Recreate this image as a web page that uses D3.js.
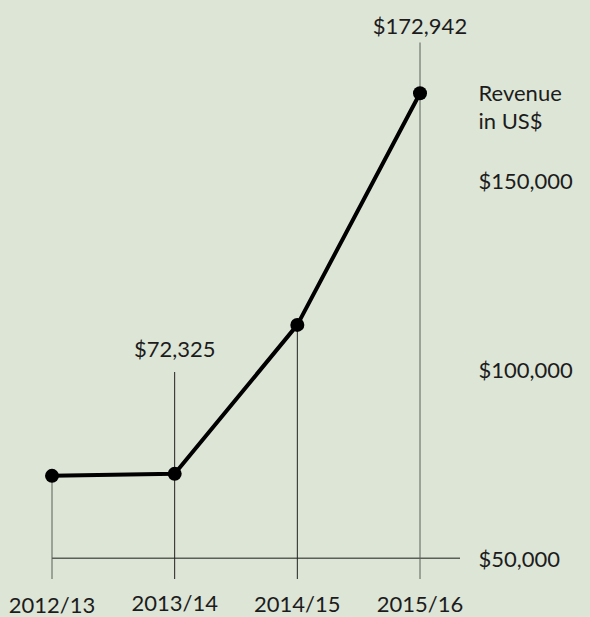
<!DOCTYPE html>
<html>
<head>
<meta charset="utf-8">
<script src="https://cdn.jsdelivr.net/npm/d3@7"></script>
<style>
  html, body { margin: 0; padding: 0; background: #dce5d6; }
  svg { display: block; }
  text { font-family: Lato, "Open Sans", sans-serif; font-weight: 400; fill: #1c1c1c; }
</style>
</head>
<body>
<svg id="chart" width="590" height="617"></svg>
<script>
// Annual revenue by financial year
const years = ["2012/13", "2013/14", "2014/15", "2015/16"];
const revenue = [71800, 72325, 111700, 172942];
const yTicks = [50000, 100000, 150000];
// Which years get a value call-out above the line
const calloutYears = ["2013/14", "2015/16"];

const svg = d3.select("#chart");
const FS = 22;

const x = d3.scalePoint().domain(years).range([52, 420]);
const y = d3.scaleLinear().domain([50000, 150000]).range([558.3, 180]);

const fmt = v => "$" + d3.format(",")(v);
const data = years.map((yr, i) => ({ yr, v: revenue[i] }));

// baseline
svg.append("line")
  .attr("x1", x(years[0])).attr("x2", 460)
  .attr("y1", y(50000)).attr("y2", y(50000))
  .attr("stroke", "#5a5f58").attr("stroke-width", 1.5);

// drop lines from each point to below the baseline
svg.selectAll("line.drop").data(data).enter().append("line")
  .attr("class", "drop")
  .attr("x1", d => x(d.yr)).attr("x2", d => x(d.yr))
  .attr("y1", d => calloutYears.includes(d.yr)
      ? (d.yr === "2015/16" ? 42.5 : 372) : y(d.v))
  .attr("y2", 579)
  .attr("stroke", d => d.yr === "2015/16" || d.yr === "2012/13" ? "#5a5f58" : "#222")
  .attr("stroke-width", 1);

// revenue line
svg.append("path")
  .datum(data)
  .attr("fill", "none")
  .attr("stroke", "#000")
  .attr("stroke-width", 4)
  .attr("stroke-linejoin", "round")
  .attr("d", d3.line().x(d => x(d.yr)).y(d => y(d.v)));

svg.selectAll("circle").data(data).enter().append("circle")
  .attr("cx", d => x(d.yr)).attr("cy", d => y(d.v))
  .attr("r", 7).attr("fill", "#000");

// value call-outs
svg.selectAll("text.callout").data(data.filter(d => calloutYears.includes(d.yr)))
  .enter().append("text")
  .attr("class", "callout")
  .attr("x", d => x(d.yr))
  .attr("y", d => d.yr === "2015/16" ? 33.5 : 356.5)
  .attr("text-anchor", "middle")
  .attr("font-size", FS)
  .text(d => fmt(d.v));

// y axis labels on the right
svg.selectAll("text.ytick").data(yTicks).enter().append("text")
  .attr("class", "ytick")
  .attr("x", 478.5)
  .attr("y", d => y(d) + 8.5)
  .attr("font-size", FS)
  .text(d => fmt(d));

svg.append("text").attr("x", 478.5).attr("y", 100.5).attr("font-size", FS).text("Revenue");
svg.append("text").attr("x", 478.5).attr("y", 128.5).attr("font-size", FS).text("in US$");

// year labels
svg.selectAll("text.xlab").data(years).enter().append("text")
  .attr("class", "xlab")
  .attr("x", d => x(d))
  .attr("y", (d, i) => [613, 610.5, 612, 611.5][i])
  .attr("text-anchor", "middle")
  .attr("font-size", FS)
  .text(d => d);
</script>
</body>
</html>
